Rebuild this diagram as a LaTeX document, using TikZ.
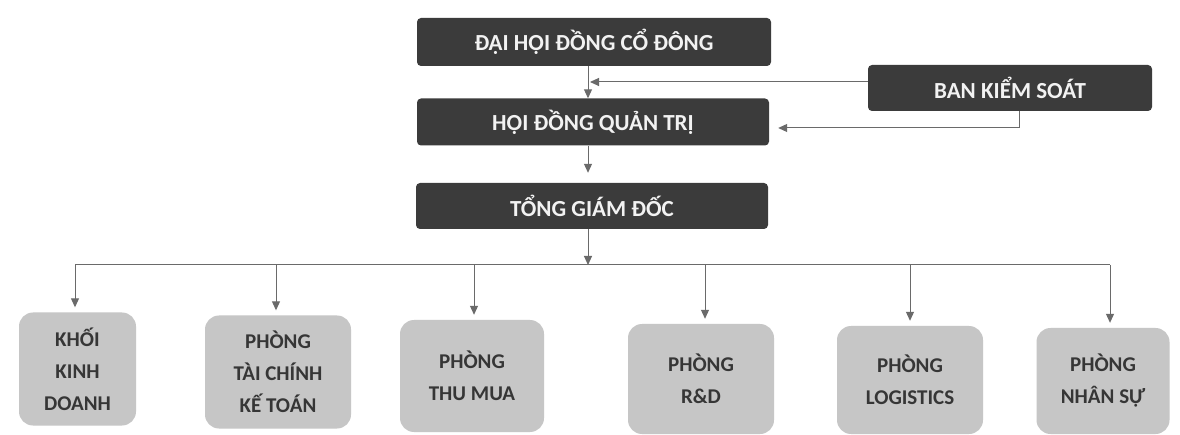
\documentclass[tikz,border=0pt]{standalone}
\usepackage{fontspec}
\setmainfont{Carlito}
\usetikzlibrary{arrows.meta,calc}
\definecolor{darkbox}{HTML}{3B3B3B}
\definecolor{lightbox}{HTML}{C6C6C6}
\definecolor{lighttext}{HTML}{F2F2F2}
\definecolor{darktext}{HTML}{363636}
\definecolor{linec}{HTML}{6A6A6A}
\begin{document}
\begin{tikzpicture}[x=1pt,y=-1pt,
  topbox/.style={draw=none,fill=darkbox,rounded corners=4pt,text=lighttext,
    font=\bfseries\fontsize{23}{27}\selectfont,inner sep=0pt},
  deptbox/.style={draw=none,fill=lightbox,rounded corners=14pt,text=darktext,
    font=\bfseries\fontsize{21}{32}\selectfont,align=center,inner sep=0pt},
  arr/.style={draw=linec,line width=1pt,-{Triangle[length=9pt,width=8pt]}},
  ln/.style={draw=linec,line width=1pt}]
\fill[white] (0,0) rectangle (1180,435);
\useasboundingbox (0,0) rectangle (1180,435);
% top nodes
\node[topbox,minimum width=354pt,minimum height=48pt] (dhcd) at (594,42) {ĐẠI HỘI ĐỒNG CỔ ĐÔNG};
\node[topbox,minimum width=284pt,minimum height=46pt] (bks) at (1010,88) {BAN KIỂM SOÁT};
\node[topbox,minimum width=352pt,minimum height=47pt] (hdqt) at (593,122) {HỘI ĐỒNG QUẢN TRỊ};
\node[topbox,minimum width=352pt,minimum height=46pt] (tgd) at (592,206) {TỔNG GIÁM ĐỐC};
% departments
\node[deptbox,minimum width=117pt,minimum height=113pt] (kkd) at (77.5,369) {KHỐI\\KINH\\DOANH};
\node[deptbox,minimum width=146pt,minimum height=113pt] (tckt) at (278,372) {PHÒNG\\TÀI CHÍNH\\KẾ TOÁN};
\node[deptbox,minimum width=144pt,minimum height=112pt] (tm) at (472,376) {PHÒNG\\THU MUA};
\node[deptbox,minimum width=146pt,minimum height=110pt] (rd) at (701,379) {PHÒNG\\R\&D};
\node[deptbox,minimum width=146pt,minimum height=108pt] (lg) at (910,380) {PHÒNG\\LOGISTICS};
\node[deptbox,minimum width=133pt,minimum height=106pt] (ns) at (1103,381) {PHÒNG\\NHÂN SỰ};
% helper coordinates
\coordinate (axis) at (588,0);
\coordinate (j1) at (590,82);
\coordinate (b1) at (75,265);
\coordinate (b2) at (276,265);
\coordinate (b3) at (474,265);
\coordinate (b4) at (705,265);
\coordinate (b5) at (910,265);
\coordinate (b6) at (1110,265);
% connectors
\draw[arr] (dhcd.south -| axis) -- (hdqt.north -| axis);
\draw[arr] (bks.west |- j1) -- (j1);
\draw[arr,shorten >=9pt] ($(bks.south)+(9,0)$) |- ([yshift=-6pt]hdqt.east);
\draw[arr,shorten >=10pt] (hdqt.south -| axis) -- (tgd.north -| axis);
\draw[arr] (tgd.south -| axis) -- (b1 -| axis);
\draw[ln] (b1) -- (b6);
\foreach \b/\n in {b1/kkd,b2/tckt,b3/tm,b4/rd,b5/lg,b6/ns}{
  \draw[arr,shorten >=5pt] (\b) -- (\b |- \n.north);
}
\end{tikzpicture}
\end{document}
